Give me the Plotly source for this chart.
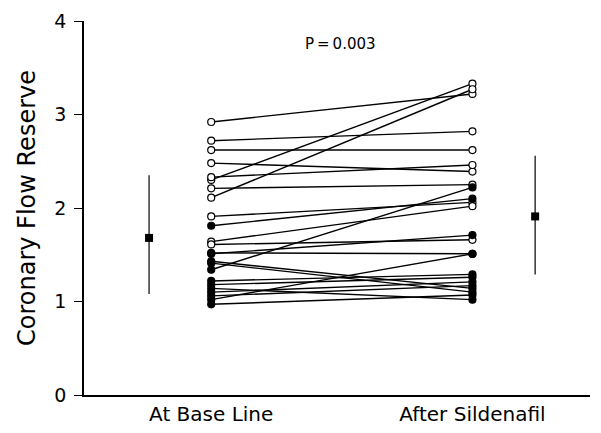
import plotly.graph_objects as go

categories = ["At Base Line", "After Sildenafil"]
baseline = [2.92, 2.30, 2.11, 2.72, 2.62, 2.48, 2.33, 2.21, 1.91, 1.64, 1.61,
            1.81, 1.34, 1.51, 1.52, 1.02, 1.43, 1.41, 1.22, 1.18, 1.14, 1.10, 1.06, 0.97]
sildenafil = [3.22, 3.33, 3.27, 2.82, 2.62, 2.39, 2.46, 2.25, 2.06, 2.02, 1.66,
              2.10, 2.22, 1.71, 1.51, 1.51, 1.14, 1.10, 1.29, 1.26, 1.02, 1.21, 1.17, 1.07]
filled = [False] * 11 + [True] * 13
mean_vals = [1.68, 1.91]
sd_low = [1.08, 1.29]
sd_high = [2.35, 2.56]
p_text = "P\u2009=\u20090.003"

XPOS = [1, 2]
MEANPOS = [0.762, 2.24]

lx, ly = [], []
for a, b in zip(baseline, sildenafil):
    lx += [XPOS[0], XPOS[1], None]
    ly += [a, b, None]

fig = go.Figure()
fig.add_trace(go.Scatter(x=lx, y=ly, mode="lines",
                         line=dict(color="black", width=1.4),
                         hoverinfo="skip", showlegend=False))
mx = [XPOS[0]] * len(baseline) + [XPOS[1]] * len(sildenafil)
my = baseline + sildenafil
mf = ["black" if f else "white" for f in filled] * 2
fig.add_trace(go.Scatter(x=mx, y=my, mode="markers",
                         marker=dict(size=7, color=mf, symbol="circle",
                                     line=dict(color="black", width=1.2)),
                         showlegend=False))
fig.add_trace(go.Scatter(
    x=MEANPOS, y=mean_vals, mode="markers",
    marker=dict(size=8, color="black", symbol="square"),
    error_y=dict(type="data", symmetric=False,
                 array=[h - m for h, m in zip(sd_high, mean_vals)],
                 arrayminus=[m - l for m, l in zip(mean_vals, sd_low)],
                 color="black", thickness=1.2, width=0),
    showlegend=False))

fig.add_annotation(x=1.494, y=3.75, text=p_text, showarrow=False,
                   font=dict(size=15, color="black"))

FONT = "DejaVu Sans, Liberation Sans, Arial, sans-serif"
fig.update_layout(
    width=585, height=417,
    margin=dict(l=76, r=3, t=13, b=30),
    paper_bgcolor="white", plot_bgcolor="white",
    font=dict(family=FONT, color="black", size=18),
)
fig.update_xaxes(range=[0.513, 2.45], tickvals=XPOS, ticktext=categories,
                 showline=True, linecolor="black", linewidth=1.6,
                 showgrid=False, zeroline=False, ticks="",
                 ticklabelstandoff=0, tickfont=dict(size=20), automargin=False)
fig.update_yaxes(range=[0, 4], tickvals=[0, 1, 2, 3, 4],
                 showline=True, linecolor="black", linewidth=1.6,
                 showgrid=False, zeroline=False, ticks="outside", ticklen=8,
                 tickwidth=1.4, tickcolor="black", tickfont=dict(size=19),
                 ticklabelstandoff=4, automargin=False,
                 title=dict(text="Coronary Flow Reserve", font=dict(size=24), standoff=12))

fig.write_html("out.html")
